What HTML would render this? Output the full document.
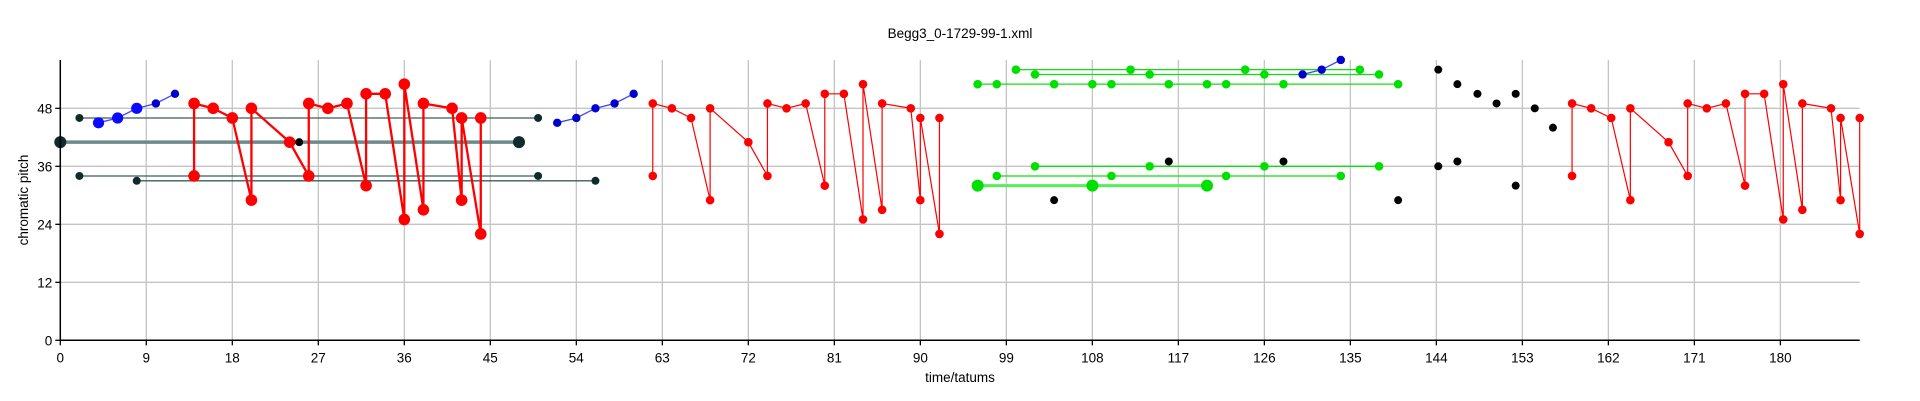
<!DOCTYPE html>
<html><head><meta charset="utf-8"><style>
html,body{margin:0;padding:0;background:#fff;}
svg{display:block;font-family:"Liberation Sans",Arial,sans-serif;}
</style></head><body>
<svg id="chart" width="1920" height="401" viewBox="0 0 1920 401" xmlns="http://www.w3.org/2000/svg">
<text x="960" y="38" text-anchor="middle" font-size="13.5" fill="#000">Begg3_0-1729-99-1.xml</text>
<text x="960" y="382" text-anchor="middle" font-size="13.5" fill="#000">time/tatums</text>
<text transform="translate(28,200) rotate(-90)" text-anchor="middle" font-size="13.5" fill="#000">chromatic pitch</text>
<g id="grid"></g><g id="marks"></g><g id="axes"></g>
</svg>
<script>
const xTicks=[0,9,18,27,36,45,54,63,72,81,90,99,108,117,126,135,144,153,162,171,180];
const yTicks=[0,12,24,36,48];
const darkPitch=[46,41,34,33];
const darkStart=[2,0,2,8];
const darkEnd=[50,48,50,56];
const darkThick=[false,true,false,false];
const greenPitch=[56,55,53,36,34,32];
const greenTimes=[[100,112,124,136],[102,114,126,138],[96,98,104,108,110,116,120,122,128,140],[102,114,126,138],[98,110,122,134],[96,108,120]];
const greenThick=[false,false,false,false,false,true];
const blackT=[25,104,116,128,140,144.2,144.2,146.2,146.2,148.3,150.3,152.3,152.3,154.3,156.2];
const blackP=[41,29,37,37,29,56,36,53,37,51,49,51,32,48,44];
const blueT1=[4,6,8,10,12], blueP1=[45,46,48,49,51];
const blueT2=[52,54,56,58,60], blueP2=[45,46,48,49,51];
const blueT3=[130,132,134], blueP3=[55,56,58];
const redT1=[14,14,16,18,20,20,24,26,26,28,30,32,32,34,36,36,38,38,41,42,42,44,44];
const redP1=[34,49,48,46,29,48,41,34,49,48,49,32,51,51,25,53,27,49,48,29,46,22,46];
const redT2=[62,62,64,66,68,68,72,74,74,76,78,80,80,82,84,84,86,86,89,90,90,92,92];
const redP2=[34,49,48,46,29,48,41,34,49,48,49,32,51,51,25,53,27,49,48,29,46,22,46];
const redT3=[158.2,158.2,160.2,162.3,164.3,164.3,168.3,170.3,170.3,172.3,174.3,176.3,176.3,178.3,180.3,180.3,182.3,182.3,185.3,186.3,186.3,188.3,188.3];
const redP3=[34,49,48,46,29,48,41,34,49,48,49,32,51,51,25,53,27,49,48,29,46,22,46];

const X0=60.3, XS=9.556, XMAX=188.3, Y0=340.3, YS=4.833, YTOP=60;
function X(t){return X0+t*XS;}
function Y(p){return Y0-p*YS;}
const NS='http://www.w3.org/2000/svg';
function mk(parent,tag,attrs){const e=document.createElementNS(NS,tag);for(const k in attrs)e.setAttribute(k,attrs[k]);parent.appendChild(e);return e;}
const grid=document.getElementById('grid'),marks=document.getElementById('marks'),axes=document.getElementById('axes');
xTicks.forEach(t=>{
 const g=mk(grid,'line',{x1:X(t),x2:X(t),y1:YTOP,y2:Y0,stroke:'#c4c4c4','stroke-width':1.3});
 
 
 const tk=mk(axes,'line',{x1:X(t),x2:X(t),y1:Y0,y2:Y0+5,stroke:'#000','stroke-width':1.3});
 
 
 const lb=mk(axes,'text',{x:X(t),y:Y0+22,'text-anchor':'middle','font-size':13.5,fill:'#000'});
 lb.textContent=t;
 
 
});
yTicks.forEach(p=>{
 if(p>0){const g=mk(grid,'line',{x1:X0,x2:X(XMAX),y1:Y(p),y2:Y(p),stroke:'#c4c4c4','stroke-width':1.3});
 
 }
 const tk=mk(axes,'line',{x1:X0-5,x2:X0,y1:Y(p),y2:Y(p),stroke:'#000','stroke-width':1.3});
 
 
 const lb=mk(axes,'text',{x:X0-8,y:Y(p)+5,'text-anchor':'end','font-size':13.5,fill:'#000'});
 lb.textContent=p;
 
 
});
const xa=mk(axes,'line',{x1:X0,x2:X(XMAX),y1:Y0,y2:Y0,stroke:'#000','stroke-width':1.5});


const ya=mk(axes,'line',{x1:X0,x2:X0,y1:YTOP,y2:Y0,stroke:'#000','stroke-width':1.5});



function dot(t,p,r,fill,name){
 const c=mk(marks,'circle',{cx:X(t),cy:Y(p),r:r,fill:fill});
 
 
}
// dark sustained lines
darkPitch.forEach((p,i)=>{
 const th=darkThick[i];
 const l=mk(marks,'line',{x1:X(darkStart[i]),x2:X(darkEnd[i]),y1:Y(p),y2:Y(p),stroke:th?'#6e8a8a':'#3d5c5c','stroke-width':th?3.5:1.3});
 
 
 dot(darkStart[i],p,th?6:4,'#0f2b2b','dark-note');
 dot(darkEnd[i],p,th?6:4,'#0f2b2b','dark-note');
});
// green rows
greenPitch.forEach((p,i)=>{
 const ts=greenTimes[i],th=greenThick[i];
 const l=mk(marks,'line',{x1:X(Math.min(...ts)),x2:X(Math.max(...ts)),y1:Y(p),y2:Y(p),stroke:th?'#55ee55':'#11dd11','stroke-width':th?3:1.3});
 
 
 ts.forEach(t=>dot(t,p,th?6:4.3,'#00e000','green-note'));
});
// red groups
function redGroup(T,P,thick){
 const pts=T.map((t,i)=>X(t)+','+Y(P[i])).join(' ');
 const pl=mk(marks,'polyline',{points:pts,fill:'none',stroke:'#ff0000','stroke-width':thick?2.3:1.2});
 
 
 T.forEach((t,i)=>dot(t,P[i],thick?5.8:4.3,'#ff0000','red-note'));
}
redGroup(redT1,redP1,true);
redGroup(redT2,redP2,false);
redGroup(redT3,redP3,false);
// blue groups
function blueGroup(T,P,bigCount){
 const pts=T.map((t,i)=>X(t)+','+Y(P[i])).join(' ');
 const pl=mk(marks,'polyline',{points:pts,fill:'none',stroke:'#4444ff','stroke-width':1.3});
 
 
 T.forEach((t,i)=>dot(t,P[i],i<bigCount?5.6:4.2,i<bigCount?'#0a0aff':'#0000cc','blue-note'));
}
blueGroup(blueT1,blueP1,3);
blueGroup(blueT2,blueP2,0);
blueGroup(blueT3,blueP3,0);
// black dots
blackT.forEach((t,i)=>dot(t,blackP[i],4,'#000','black-note'));
</script>
</body></html>
